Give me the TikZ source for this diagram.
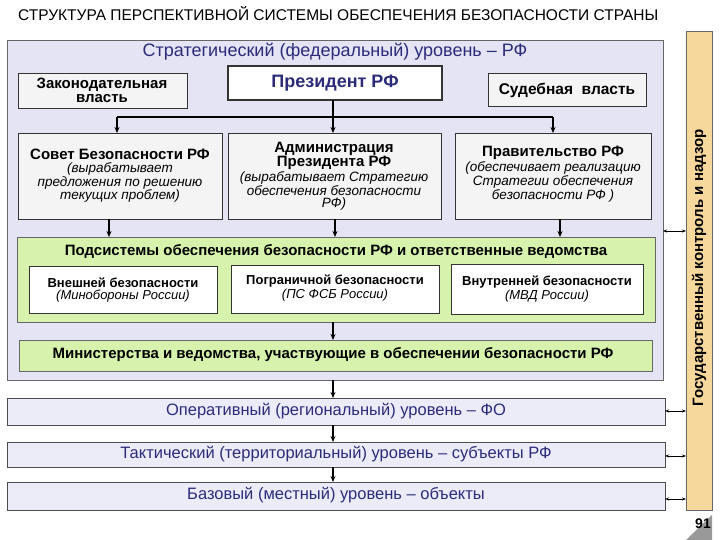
\documentclass[tikz,border=0pt]{standalone}
\usepackage{fontspec}
\setmainfont{Liberation Sans}
\usetikzlibrary{arrows.meta}
\definecolor{lav}{HTML}{E4E4F4}
\definecolor{lav2}{HTML}{ECECF8}
\definecolor{dblue}{HTML}{2B2B7A}
\definecolor{lgreen}{HTML}{D6F2AC}
\definecolor{orng}{HTML}{F6D89C}
\definecolor{boxf}{HTML}{F4F4F4}
\newcommand{\mybt}{\bfseries\fontsize{15}{17}\selectfont}
\newcommand{\myit}{\itshape\fontsize{13.5}{15.5}\selectfont}
\tikzset{
  bx/.style={draw=black!80,fill=boxf,line width=0.8pt,align=center,inner sep=1pt},
  lev/.style={draw=black!70,fill=lav2,line width=0.8pt},
  ar/.style={-{Stealth[length=6pt,width=5pt]},line width=2pt},
  dar/.style={{Stealth[length=4pt]}-{Stealth[length=4pt]},line width=0.8pt},
  levt/.style={text=dblue,font=\fontsize{16.5}{18}\selectfont},
}
\begin{document}
\begin{tikzpicture}[x=1pt,y=-1pt,font=\fontsize{10}{11.5}\selectfont]
\useasboundingbox[fill=white] (0,0) rectangle (720,540);
\node[anchor=west,inner sep=0pt,font=\fontsize{15.5}{17}\selectfont] (title) at (18,14) {СТРУКТУРА ПЕРСПЕКТИВНОЙ СИСТЕМЫ ОБЕСПЕЧЕНИЯ БЕЗОПАСНОСТИ СТРАНЫ};
% strategic
\draw[draw=black!60,fill=lav,line width=0.8pt] (7,40) rectangle (663,380);
\node[text=dblue,font=\fontsize{18}{20}\selectfont] (strat) at (335,52) {Стратегический (федеральный) уровень – РФ};
\draw[bx] (18,73) rectangle (187,108); \node[font=\bfseries\fontsize{15}{14}\selectfont,align=center] (zak) at (102,90) {Законодательная\\власть};
\draw[bx,fill=white,line width=2pt] (228,66) rectangle (442,100); \node[font=\bfseries\fontsize{18}{20}\selectfont,text=dblue] (pres) at (335,83) {Президент РФ};
\draw[bx] (488,73) rectangle (646,106); \node[font=\bfseries\fontsize{15.5}{17}\selectfont] (sud) at (567,90) {Судебная\ \ власть};
\coordinate (pb) at (333,100);
\coordinate (hl) at (117,117); \coordinate (hr) at (553,117); \coordinate (hm) at (333,117);
\draw[line width=2pt] (pb) -- (hm);
\draw[ar] (hl) -- (117,133);
\draw[line width=2pt] (hl) -- (hr);
\draw[ar] (hm) -- (333,133);
\draw[ar] (hr) -- (553,133);
\draw[bx] (18,133) rectangle (222,219);
\node[align=center] (sov) at (120,176) {\mybt Совет Безопасности РФ\\[1pt]\myit (вырабатывает\\\myit предложения по решению\\\myit текущих проблем)};
\draw[bx] (228,133) rectangle (441,219);
\node[align=center] (adm) at (334,176) {\mybt Администрация\\\mybt Президента РФ\\[1pt]\myit (вырабатывает Стратегию\\\myit обеспечения безопасности\\\myit РФ)};
\draw[bx] (455,133) rectangle (651,219);
\node[align=center] (prav) at (553,174) {\mybt Правительство РФ\\[1pt]\myit (обеспечивает реализацию\\\myit Стратегии  обеспечения\\\myit безопасности РФ )};
\draw[ar] (109,219) -- (109,237);
\draw[ar] (335,219) -- (335,237);
\draw[ar] (560,219) -- (560,237);
% green
\draw[draw=black!60,fill=lgreen,line width=0.8pt] (17,237) rectangle (655,322);
\node[font=\bfseries\fontsize{15}{17}\selectfont] (pods) at (336,251) {Подсистемы обеспечения безопасности РФ и ответственные ведомства};
\draw[bx,fill=white] (29,266) rectangle (217,313); \node[align=center] (vn) at (123,290) {\bfseries\fontsize{13}{15}\selectfont Внешней безопасности\\\itshape\fontsize{13}{15}\selectfont (Минобороны России)};
\draw[bx,fill=white] (231,265) rectangle (439,313); \node[align=center] (pog) at (335,288) {\bfseries\fontsize{13}{15}\selectfont Пограничной безопасности\\\itshape\fontsize{13}{15}\selectfont (ПС ФСБ России)};
\draw[bx,fill=white] (451,264) rectangle (643,314); \node[align=center] (vnu) at (547,289) {\bfseries\fontsize{13}{15}\selectfont Внутренней безопасности\\\itshape\fontsize{13}{15}\selectfont (МВД России)};
\draw[ar] (333,322) -- (333,340);
\draw[draw=black!60,fill=lgreen,line width=0.8pt] (19,340) rectangle (652,371);
\node[font=\bfseries\fontsize{15}{17}\selectfont] (min) at (333,355) {Министерства и ведомства, участвующие в обеспечении безопасности РФ};
% levels
\draw[ar] (333,380) -- (333,398);
\draw[lev] (7,398) rectangle (665,425); \node[levt] (op) at (336,411) {Оперативный (региональный) уровень – ФО};
\draw[ar] (333,425) -- (333,442);
\draw[lev] (7,442) rectangle (665,467); \node[levt] (tak) at (336,454) {Тактический (территориальный) уровень – субъекты РФ};
\draw[ar] (333,467) -- (333,482);
\draw[lev] (7,482) rectangle (665,510); \node[levt] (baz) at (336,495) {Базовый (местный) уровень – объекты};
% control bar
\draw[draw=black!60,fill=orng,line width=0.8pt] (686,31) rectangle (712,510);
\node[rotate=90,font=\bfseries\fontsize{15}{17}\selectfont] (gos) at (699,268) {Государственный контроль и надзор};
\draw[dar] (663,231) -- (686,231);
\draw[dar] (665,411) -- (686,411);
\draw[dar] (665,456) -- (686,456);
\draw[dar] (665,499) -- (686,499);
\fill[black!40] (686,540) -- (712,515) -- (712,540) -- cycle;
\node[font=\bfseries\fontsize{14}{16}\selectfont] (pg) at (703,524) {91};
\end{tikzpicture}
\end{document}
